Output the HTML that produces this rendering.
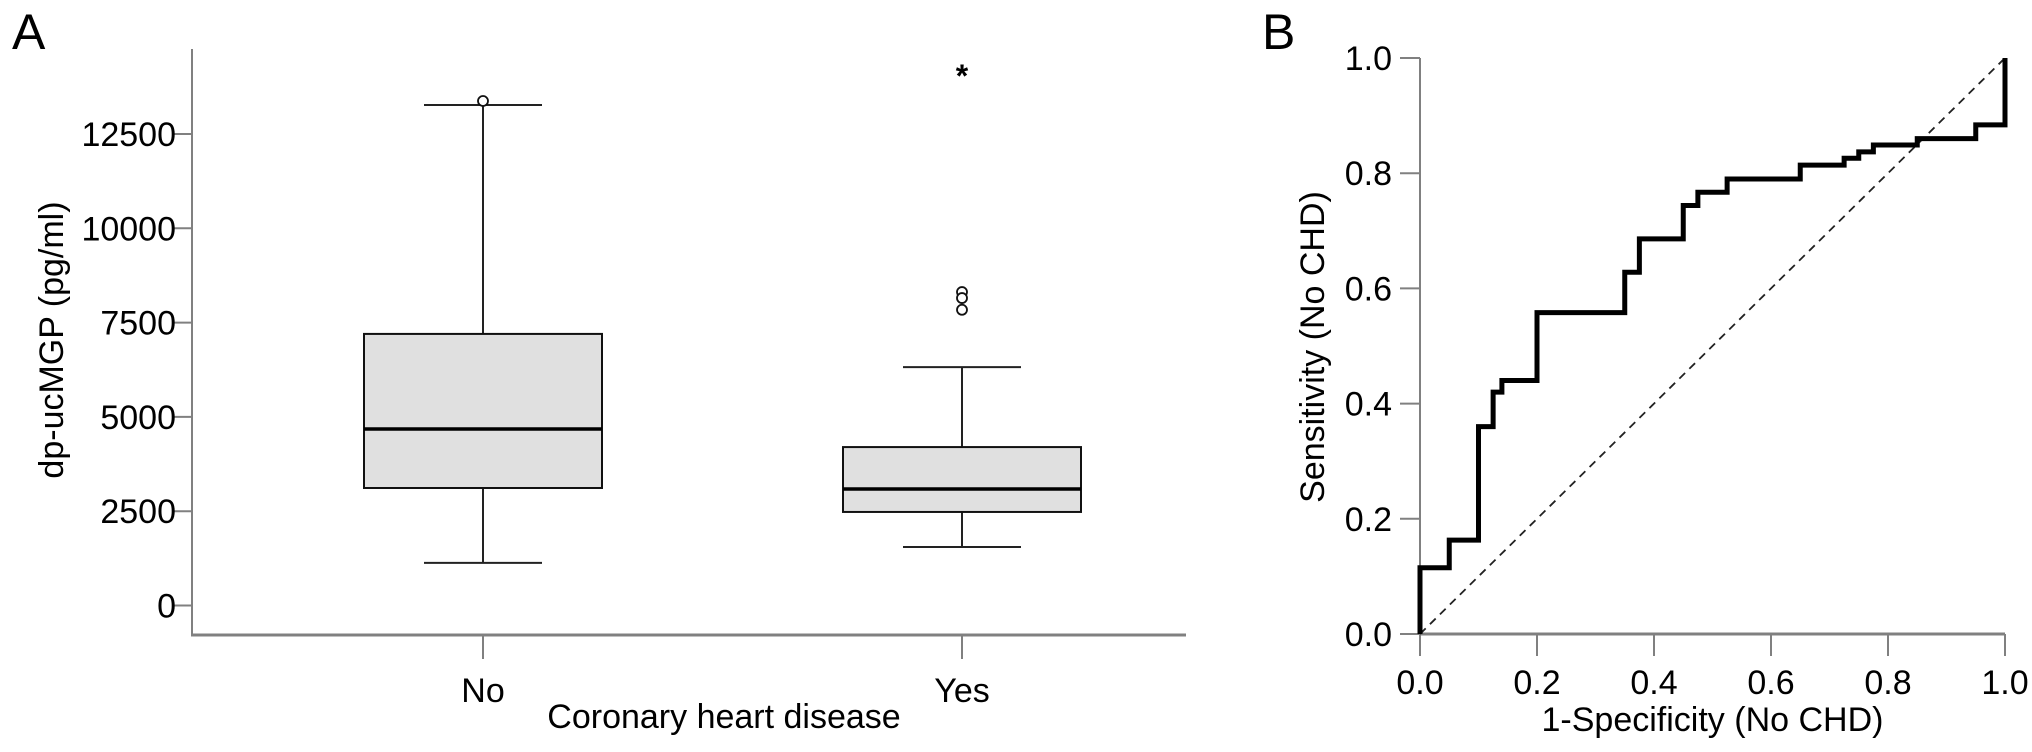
<!DOCTYPE html>
<html><head><meta charset="utf-8"><style>
html,body{margin:0;padding:0;background:#fff}
svg{display:block;font-family:"Liberation Sans",Arial,sans-serif}
</style></head><body>
<svg id="chart" width="2032" height="752" viewBox="0 0 2032 752" xmlns="http://www.w3.org/2000/svg">
<text x="12" y="49" font-size="50">A</text>
<text x="1262" y="49" font-size="50">B</text>
<g id="pa"></g>
<g id="pb"></g>
</svg>
<script>
// Panel A data
const categories = ["No", "Yes"];
const whiskerLow = [1130, 1550];
const q1 = [3115, 2480];
const medians = [4680, 3090];
const q3 = [7200, 4200];
const whiskerHigh = [13270, 6320];
const outliersCircle = [[13375], [8310, 8150, 7840]];
const outliersStar = [[], [14170]];
const yTicksA = [0, 2500, 5000, 7500, 10000, 12500];
// Panel B data
const fpr = [0,0,0.05,0.05,0.1,0.1,0.125,0.125,0.14,0.14,0.2,0.2,0.35,0.35,0.375,0.375,0.45,0.45,0.475,0.475,0.525,0.525,0.65,0.65,0.725,0.725,0.75,0.75,0.775,0.775,0.85,0.85,0.95,0.95,1.0,1.0];
const tpr = [0,0.115,0.115,0.163,0.163,0.36,0.36,0.42,0.42,0.44,0.44,0.558,0.558,0.628,0.628,0.686,0.686,0.744,0.744,0.767,0.767,0.79,0.79,0.814,0.814,0.826,0.826,0.837,0.837,0.849,0.849,0.86,0.86,0.884,0.884,1.0];
const rocTicks = ["0.0","0.2","0.4","0.6","0.8","1.0"];

const NS="http://www.w3.org/2000/svg";
function mk(parent,tag,attrs,text){const e=document.createElementNS(NS,tag);for(const k in attrs)e.setAttribute(k,attrs[k]);if(text!==undefined)e.textContent=text;parent.appendChild(e);return e;}
const pa=document.getElementById('pa'), pb=document.getElementById('pb');
const AX="#808080";
const FS=34;

// Panel A
const yA=v=>605.5-v*94.3/2500;
const xCat=[483,962];
let e;
e=mk(pa,'line',{x1:192,y1:49,x2:192,y2:635,stroke:AX,'stroke-width':2});


e=mk(pa,'line',{x1:191,y1:635,x2:1186,y2:635,stroke:AX,'stroke-width':3});


yTicksA.forEach(t=>{
  e=mk(pa,'line',{x1:172,y1:yA(t),x2:192,y2:yA(t),stroke:AX,'stroke-width':2});
  
  
  e=mk(pa,'text',{x:176,y:yA(t)+12,'font-size':FS,'text-anchor':'end'},t);
  
  
});
e=mk(pa,'text',{x:0,y:0,'font-size':FS,'text-anchor':'middle',transform:'translate(63,340) rotate(-90)'},'dp-ucMGP (pg/ml)');


e=mk(pa,'text',{x:724,y:728,'font-size':FS,'text-anchor':'middle'},'Coronary heart disease');


categories.forEach((c,i)=>{
  const x=xCat[i], hw=119, cw=59;
  e=mk(pa,'line',{x1:x,y1:635,x2:x,y2:659,stroke:AX,'stroke-width':2});
  
  
  e=mk(pa,'text',{x:x,y:702,'font-size':FS,'text-anchor':'middle'},c);
  
  
  e=mk(pa,'line',{x1:x,y1:yA(whiskerHigh[i]),x2:x,y2:yA(q3[i]),stroke:'#222','stroke-width':2});
  
  
  e=mk(pa,'line',{x1:x,y1:yA(q1[i]),x2:x,y2:yA(whiskerLow[i]),stroke:'#222','stroke-width':2});
  
  
  e=mk(pa,'line',{x1:x-cw,y1:yA(whiskerHigh[i]),x2:x+cw,y2:yA(whiskerHigh[i]),stroke:'#222','stroke-width':2});
  
  
  e=mk(pa,'line',{x1:x-cw,y1:yA(whiskerLow[i]),x2:x+cw,y2:yA(whiskerLow[i]),stroke:'#222','stroke-width':2});
  
  
  e=mk(pa,'rect',{x:x-hw,y:yA(q3[i]),width:2*hw,height:yA(q1[i])-yA(q3[i]),fill:'#e0e0e0',stroke:'#111','stroke-width':2});
  
  
  e=mk(pa,'line',{x1:x-hw,y1:yA(medians[i]),x2:x+hw,y2:yA(medians[i]),stroke:'#000','stroke-width':3.5});
  
  
  outliersCircle[i].forEach(v=>{
    e=mk(pa,'circle',{cx:x,cy:yA(v),r:5,fill:'#fff',stroke:'#111','stroke-width':1.8});
    
    
  });
  outliersStar[i].forEach(v=>{
    e=mk(pa,'text',{x:x,y:yA(v)+16,'font-size':32,'font-weight':'bold','text-anchor':'middle'},'*');
    
    
  });
});

// Panel B
const X0=1420,X1=2005,Y0=634,Y1=58;
const xB=v=>X0+v*(X1-X0), yB=v=>Y0-v*(Y0-Y1);
e=mk(pb,'line',{x1:X0,y1:Y1,x2:X0,y2:Y0,stroke:AX,'stroke-width':2});


e=mk(pb,'line',{x1:X0,y1:Y0,x2:X1,y2:Y0,stroke:AX,'stroke-width':3});


rocTicks.forEach(t=>{
  const v=parseFloat(t);
  e=mk(pb,'line',{x1:X0-20,y1:yB(v),x2:X0,y2:yB(v),stroke:AX,'stroke-width':2});
  
  
  e=mk(pb,'text',{x:X0-28,y:yB(v)+12,'font-size':FS,'text-anchor':'end'},t);
  
  
  e=mk(pb,'line',{x1:xB(v),y1:Y0,x2:xB(v),y2:Y0+22,stroke:AX,'stroke-width':2});
  
  
  e=mk(pb,'text',{x:xB(v),y:Y0+60,'font-size':FS,'text-anchor':'middle'},t);
  
  
});
e=mk(pb,'text',{x:0,y:0,'font-size':FS,'text-anchor':'middle',transform:'translate(1324,347) rotate(-90)'},'Sensitivity (No CHD)');


e=mk(pb,'text',{x:xB(0.5),y:731,'font-size':FS,'text-anchor':'middle'},'1-Specificity (No CHD)');


e=mk(pb,'line',{x1:xB(0),y1:yB(0),x2:xB(1),y2:yB(1),stroke:'#222','stroke-width':1.8,'stroke-dasharray':'8,6'});


e=mk(pb,'polyline',{points:fpr.map((f,i)=>xB(f)+','+yB(tpr[i])).join(' '),fill:'none',stroke:'#000','stroke-width':5,'stroke-linejoin':'miter'});


</script>
</body></html>
